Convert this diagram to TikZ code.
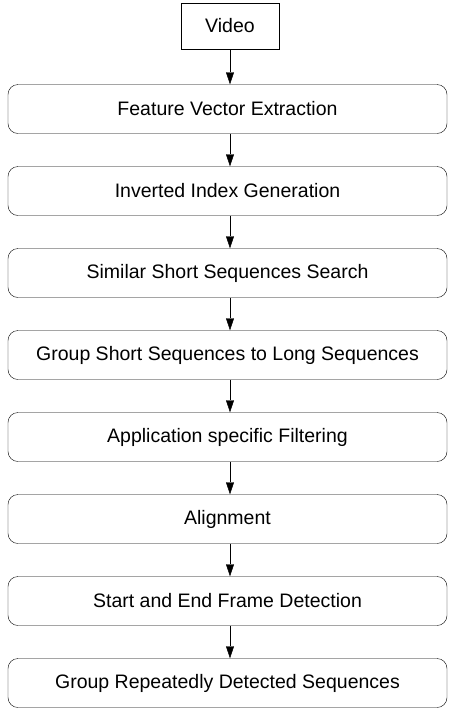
\documentclass[tikz,border=0pt]{standalone}
\usepackage{fontspec}
\setmainfont{Liberation Sans}
\usetikzlibrary{arrows.meta}

\begin{document}
\begin{tikzpicture}[x=1pt, y=1pt,
    stage/.style={draw, rounded corners=10pt, minimum width=439pt, minimum height=49pt, font=\fontsize{19.5}{22}\selectfont},
    source/.style={draw, minimum width=98pt, minimum height=46pt, font=\fontsize{19.5}{22}\selectfont},
    flow/.style={-{Triangle[length=12pt,width=8pt]}}]
        \useasboundingbox (0,0) rectangle (448,-713);

        % Input
        \node[source] (video) at (230,-26) {Video};

        % Processing stages
        \node[stage] (feat) at (227.5,-109) {Feature Vector Extraction};
        \node[stage] (index) at (227.5,-191) {Inverted Index Generation};
        \node[stage] (search) at (227.5,-273) {Similar Short Sequences Search};
        \node[stage] (group) at (227.5,-355) {Group Short Sequences to Long Sequences};
        \node[stage] (filter) at (227.5,-437) {Application specific Filtering};
        \node[stage] (align) at (227.5,-519) {Alignment};
        \node[stage] (detect) at (227.5,-601) {Start and End Frame Detection};
        \node[stage] (merge) at (227.5,-683) {Group Repeatedly Detected Sequences};

        % Connections
        \draw[flow] (video.south) -- (feat.north -| video.south);
        \draw[flow] (feat.south -| video.south) -- (index.north -| video.south);
        \draw[flow] (index.south -| video.south) -- (search.north -| video.south);
        \draw[flow] (search.south -| video.south) -- (group.north -| video.south);
        \draw[flow] (group.south -| video.south) -- (filter.north -| video.south);
        \draw[flow] (filter.south -| video.south) -- (align.north -| video.south);
        \draw[flow] (align.south -| video.south) -- (detect.north -| video.south);
        \draw[flow] (detect.south -| video.south) -- (merge.north -| video.south);
    \end{tikzpicture}
\end{document}
